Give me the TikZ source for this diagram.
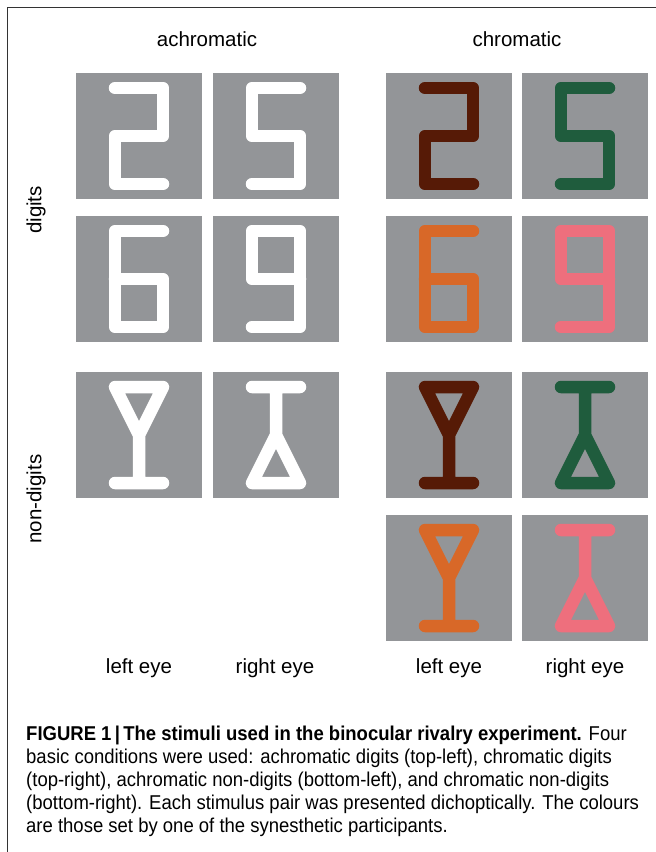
\documentclass[tikz,border=0pt]{standalone}
\usepackage{fontspec}
\setmainfont{Liberation Sans}
\newfontfamily\capfont[FakeStretch=0.925]{Liberation Sans}
\usepackage{tikz}
\usetikzlibrary{calc}
\definecolor{stimgray}{HTML}{939598}
\definecolor{synbrown}{HTML}{561A06}
\definecolor{syngreen}{HTML}{1F5C3D}
\definecolor{synorange}{HTML}{D86828}
\definecolor{synpink}{HTML}{EE6F7D}

\begin{document}
\begin{tikzpicture}[x=1pt, y=-1pt, font=\fontsize{20.5}{24}\selectfont,
		panel/.style={fill=stimgray},
		glyph/.style={line width=12.5pt, line cap=round, line join=round}]
	\useasboundingbox (0,0) rectangle (656,852);
	\draw[black!80, line width=1pt] (7,852) -- (7,7) -- (656,7);
	% grey panels
	\foreach \px in {76,213,386,522}
		\foreach \py in {73,216,372}
			\fill[panel] (\px,\py) rectangle ++(126,126);
	\foreach \px in {386,522}
		\fill[panel] (\px,515) rectangle ++(126,126);
	% digits
	\foreach \sx/\sc in {76/white, 386/synbrown}
		\draw[glyph, \sc, shift={(\sx,73)}] (39,15) -- (87,15) -- (87,63) -- (39,63) -- (39,111) -- (87,111);
	\foreach \sx/\sc in {213/white, 522/syngreen}
		\draw[glyph, \sc, shift={(\sx,73)}] (87,15) -- (39,15) -- (39,63) -- (87,63) -- (87,111) -- (39,111);
	\foreach \sx/\sc in {76/white, 386/synorange}
		\draw[glyph, \sc, shift={(\sx,216)}] (87,15) -- (39,15) -- (39,111) -- (87,111) -- (87,63) -- (39,63);
	\foreach \sx/\sc in {213/white, 522/synpink}
		\draw[glyph, \sc, shift={(\sx,216)}] (39,111) -- (87,111) -- (87,15) -- (39,15) -- (39,63) -- (87,63);
	% non-digits
	\foreach \sx/\sy/\sc in {76/372/white, 386/372/synbrown, 386/515/synorange}
		\draw[glyph, \sc, shift={(\sx,\sy)}] (39,15) -- (87,15) -- (63,63) -- cycle (63,63) -- (63,111) (39,111) -- (87,111);
	\foreach \sx/\sy/\sc in {213/372/white, 522/372/syngreen, 522/515/synpink}
		\draw[glyph, \sc, shift={(\sx,\sy)}] (39,15) -- (87,15) (63,15) -- (63,63) (63,63) -- (39,111) -- (87,111) -- cycle;
	% labels
	\node (achrom) at (207,39) {achromatic};
	\node (chrom) at (517,39) {chromatic};
	\node[rotate=90] (digits) at (36,210) {digits};
	\node[rotate=90] (nondigits) at (36,499) {non-digits};
	\node (leftA) at (139,668) {left eye};
	\node (rightA) at (275,668) {right eye};
	\node (leftC) at (449,668) {left eye};
	\node (rightC) at (585,668) {right eye};
	\node[anchor=north west, inner sep=0pt, align=left, font=\capfont\fontsize{20}{23}\selectfont] (caption) at (26,726)
		{\textbf{FIGURE 1\,|\,The stimuli used in the binocular rivalry experiment.} Four\\
		basic conditions were used: achromatic digits (top-left), chromatic digits\\
		(top-right), achromatic non-digits (bottom-left), and chromatic non-digits\\
		(bottom-right). Each stimulus pair was presented dichoptically. The colours\\
		are those set by one of the synesthetic participants.};
\end{tikzpicture}
\end{document}
